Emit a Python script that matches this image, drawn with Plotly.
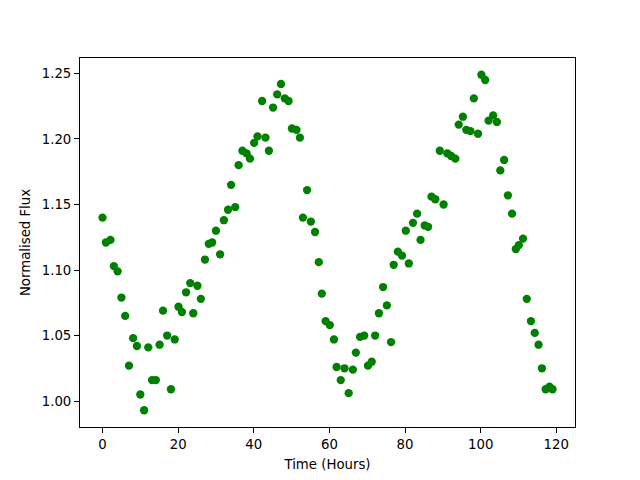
import plotly.graph_objects as go

hours = [0.0, 0.9, 2.1, 3.0, 4.0, 5.0, 6.0, 7.0, 8.1, 9.1,
         10.0, 11.0, 12.1, 13.1, 14.1, 15.1, 16.0, 17.1, 18.1, 19.1,
         20.1, 21.0, 22.1, 23.2, 24.0, 25.1, 26.0, 27.1, 28.1, 29.0,
         30.0, 31.1, 32.1, 33.2, 34.0, 35.1, 36.0, 37.0, 38.1, 39.0,
         40.1, 41.0, 42.2, 43.1, 44.0, 45.1, 46.2, 47.2, 48.2, 49.2,
         50.1, 51.3, 52.2, 53.0, 54.1, 55.1, 56.2, 57.2, 58.0, 59.0,
         60.1, 61.2, 61.9, 63.0, 64.0, 65.1, 66.2, 67.0, 68.1, 69.2,
         70.2, 71.2, 72.1, 73.1, 74.2, 75.2, 76.3, 77.0, 78.1, 79.2,
         80.2, 81.0, 82.1, 83.2, 84.1, 85.2, 86.1, 87.0, 88.0, 89.2,
         90.2, 91.2, 92.2, 93.3, 94.2, 95.3, 96.2, 97.3, 98.2, 99.3,
         100.2, 101.2, 102.1, 103.3, 104.3, 105.2, 106.2, 107.2, 108.3, 109.3,
         110.1, 111.2, 112.2, 113.3, 114.3, 115.3, 116.2, 117.2, 118.2, 119.0]

flux = [1.140, 1.121, 1.123, 1.103, 1.099, 1.079, 1.065, 1.027, 1.048, 1.042,
        1.005, 0.993, 1.041, 1.016, 1.016, 1.043, 1.069, 1.050, 1.009, 1.047,
        1.072, 1.068, 1.083, 1.090, 1.067, 1.088, 1.078, 1.108, 1.120, 1.121,
        1.130, 1.112, 1.138, 1.146, 1.165, 1.148, 1.180, 1.191, 1.189, 1.185,
        1.197, 1.202, 1.229, 1.201, 1.191, 1.224, 1.234, 1.242, 1.231, 1.229,
        1.208, 1.207, 1.201, 1.140, 1.161, 1.137, 1.129, 1.106, 1.082, 1.061,
        1.058, 1.047, 1.026, 1.016, 1.025, 1.006, 1.024, 1.037, 1.049, 1.050,
        1.027, 1.030, 1.050, 1.067, 1.087, 1.073, 1.045, 1.104, 1.114, 1.111,
        1.130, 1.105, 1.136, 1.143, 1.123, 1.134, 1.133, 1.156, 1.154, 1.191,
        1.150, 1.189, 1.187, 1.185, 1.211, 1.217, 1.207, 1.206, 1.231, 1.204,
        1.249, 1.245, 1.214, 1.218, 1.213, 1.176, 1.184, 1.157, 1.143, 1.116,
        1.119, 1.124, 1.078, 1.061, 1.052, 1.043, 1.025, 1.009, 1.011, 1.009]

x_ticks = [0, 20, 40, 60, 80, 100, 120]
y_ticks = [1.00, 1.05, 1.10, 1.15, 1.20, 1.25]

xmin, xmax = min(hours), max(hours)
ymin, ymax = min(flux), max(flux)
xpad = 0.05 * (xmax - xmin)
ypad = 0.05 * (ymax - ymin)

fig = go.Figure(go.Scatter(
    x=hours, y=flux, mode="markers",
    marker=dict(color="green", size=8.3, line=dict(width=0)),
))

font = dict(family="DejaVu Sans", size=13.3, color="black")
axis_common = dict(
    showline=True, linecolor="black", linewidth=1, mirror=True,
    ticks="outside", ticklen=5, tickwidth=1, tickcolor="black",
    showgrid=False, zeroline=False, tickfont=font,
)

fig.update_layout(
    width=640, height=480,
    margin=dict(l=72, r=73, t=50, b=61),
    paper_bgcolor="white", plot_bgcolor="white",
    showlegend=False,
    font=font,
    xaxis=dict(range=[xmin - xpad, xmax + xpad], tickvals=x_ticks,
               ticktext=[str(v) for v in x_ticks],
               title=dict(text="Time (Hours)", font=font, standoff=8),
               **axis_common),
    yaxis=dict(range=[ymin - ypad, ymax + ypad], tickvals=y_ticks,
               ticktext=[f"{v:.2f}" for v in y_ticks],
               title=dict(text="Normalised Flux", font=font, standoff=8),
               **axis_common),
)

fig.write_html("out.html")
